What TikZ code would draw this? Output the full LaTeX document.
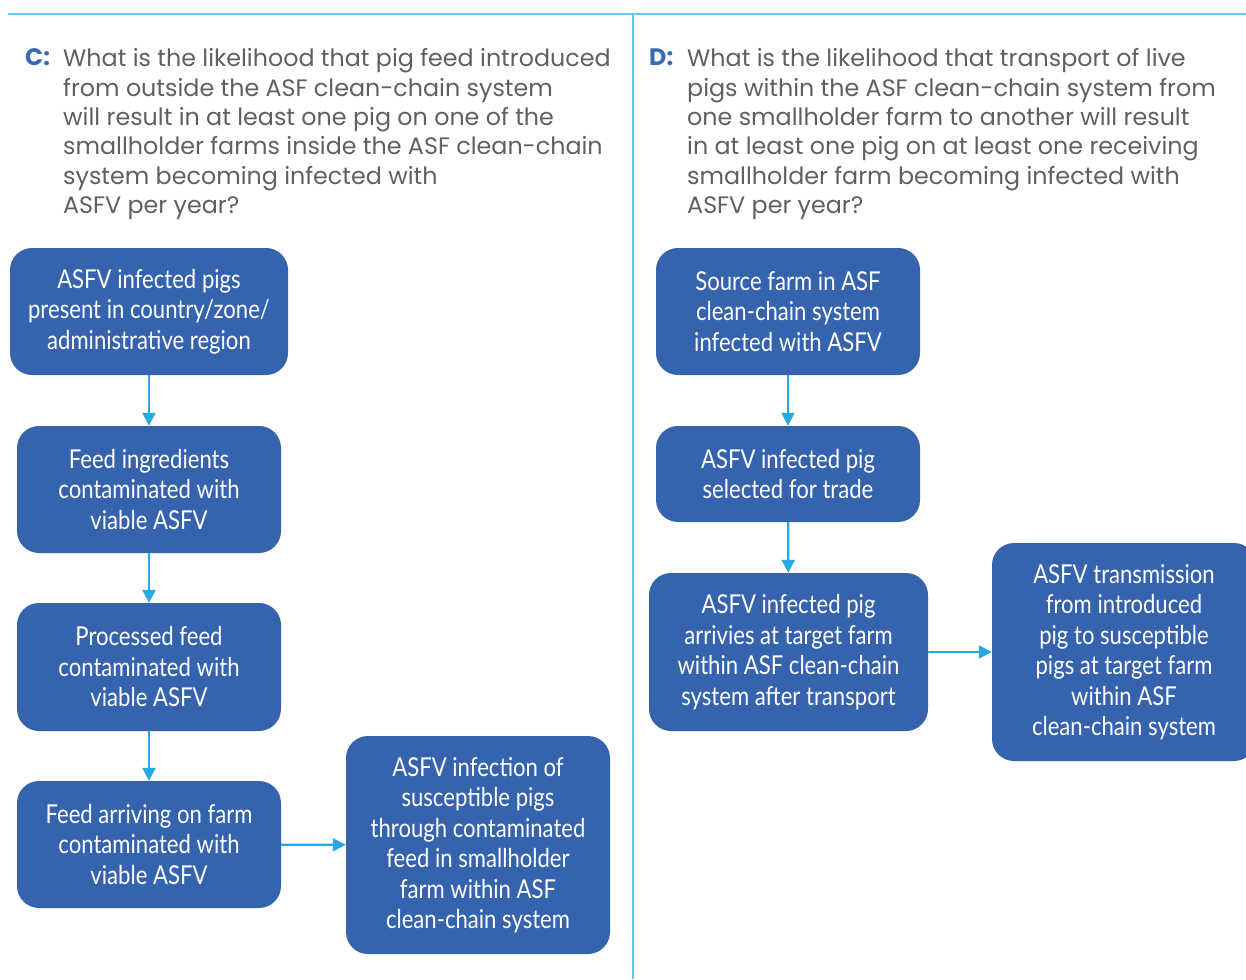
\documentclass[tikz,border=0pt]{standalone}
\usepackage{fontspec}
\usetikzlibrary{arrows.meta}
\setmainfont{Poppins}
\newfontfamily\boxfont[FakeStretch=0.85]{Lato}
\definecolor{boxblue}{HTML}{3563AE}
\definecolor{arrowblue}{HTML}{27AAE1}
\definecolor{rule}{HTML}{6DC5E8}
\definecolor{qgray}{HTML}{606060}
\definecolor{qblue}{HTML}{3A6AB4}
\tikzset{
  stepbox/.style={fill=boxblue, rounded corners=22pt, text=white, align=center,
    inner sep=0pt, font=\boxfont\fontsize{26}{30.5}\selectfont},
  flow/.style={arrowblue, line width=2.2pt, -{Triangle[length=13pt,width=13pt]}},
  question/.style={anchor=north west, inner sep=0pt, align=left, text=qgray,
    font=\fontsize{23.8}{29.3}\selectfont},
  qlabel/.style={anchor=north west, inner sep=0pt, text=qblue,
    font=\bfseries\fontsize{23.8}{29.3}\selectfont},
}
\begin{document}
\begin{tikzpicture}[x=1pt,y=-1pt]
\useasboundingbox (0,0) rectangle (1246,979);
% frame rules
\draw[rule, line width=2pt] (8,14) -- (1246,14);
\draw[rule, line width=2pt] (633,14) -- (633,979);

% questions
\node[qlabel] (cl) at (25,48.5) {C:};
\node[question] (cq) at (63,48.5) {What is the likelihood that pig feed introduced\\
from outside the ASF clean-chain system\\
will result in at least one pig on one of the\\
smallholder farms inside the ASF clean-chain\\
system becoming infected with\\
ASFV per year?};
\node[qlabel] (dl) at (649,48.5) {D:};
\node[question] (dq) at (687,48.5) {What is the likelihood that transport of live\\
pigs within the ASF clean-chain system from\\
one smallholder farm to another will result\\
in at least one pig on at least one receiving\\
smallholder farm becoming infected with\\
ASFV per year?};

% pathway C
\node[stepbox, minimum width=278pt, minimum height=127pt] (c1) at (149,311.5)
  {ASFV infected pigs\\present in country/zone/\\administrative region};
\node[stepbox, minimum width=264pt, minimum height=127pt] (c2) at (149,489.5)
  {Feed ingredients\\contaminated with\\viable ASFV};
\node[stepbox, minimum width=264pt, minimum height=128pt] (c3) at (149,667)
  {Processed feed\\contaminated with\\viable ASFV};
\node[stepbox, minimum width=264pt, minimum height=127pt] (c4) at (149,844.5)
  {Feed arriving on farm\\contaminated with\\viable ASFV};
\node[stepbox, minimum width=264pt, minimum height=218pt] (c5) at (478,845)
  {ASFV infection of\\susceptible pigs\\through contaminated\\feed in smallholder\\farm within ASF\\clean-chain system};
\draw[flow] (c1) -- (c2);
\draw[flow] (c2) -- (c3);
\draw[flow] (c3) -- (c4);
\draw[flow] (c4) -- (c5);

% pathway D
\node[stepbox, minimum width=264pt, minimum height=127pt] (d1) at (788,311.5)
  {Source farm in ASF\\clean-chain system\\infected with ASFV};
\node[stepbox, minimum width=264pt, minimum height=96pt] (d2) at (788,474)
  {ASFV infected pig\\selected for trade};
\node[stepbox, minimum width=279pt, minimum height=158pt] (d3) at (788.5,652)
  {ASFV infected pig\\arrivies at target farm\\within ASF clean-chain\\system after transport};
\node[stepbox, minimum width=264pt, minimum height=218pt] (d4) at (1124,652)
  {ASFV transmission\\from introduced\\pig to susceptible\\pigs at target farm\\within ASF\\clean-chain system};
\draw[flow] (d1) -- (d2);
\draw[flow] (d2) -- (d3);
\draw[flow] (d3) -- (d4);
\end{tikzpicture}
\end{document}
